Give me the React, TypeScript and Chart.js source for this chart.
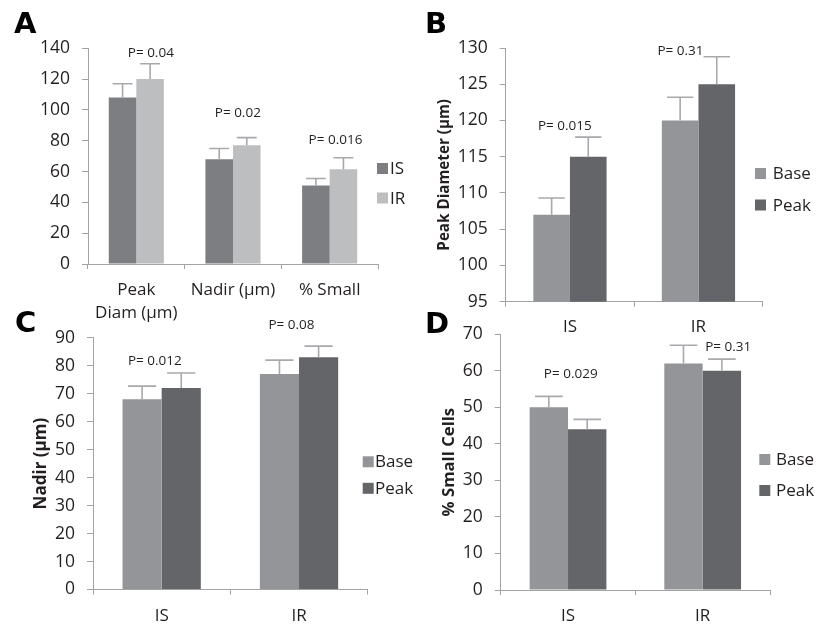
import React, { useEffect, useRef } from 'react';
import { Chart, registerables } from 'chart.js';

Chart.register(...registerables);

// ---------- Data ----------
// Panel A
const aCategories: (string | string[])[] = [['Peak', 'Diam (μm)'], 'Nadir (μm)', '% Small'];
const aIS = [108, 68, 51];
const aISErr = [9, 7, 4.5];
const aIR = [120, 77, 61.5];
const aIRErr = [10, 5, 7.5];
const aPText = ['P= 0.04', 'P= 0.02', 'P= 0.016'];

// Groups for panels B, C, D
const groups = ['IS', 'IR'];

// Panel B (Peak Diameter)
const bBase = [107, 120];
const bBaseErr = [2.3, 3.2];
const bPeak = [115, 125];
const bPeakErr = [2.7, 3.8];
const bPText = ['P= 0.015', 'P= 0.31'];

// Panel C (Nadir)
const cBase = [68, 77];
const cBaseErr = [4.7, 5];
const cPeak = [72, 83];
const cPeakErr = [5.4, 4];
const cPText = ['P= 0.012', 'P= 0.08'];

// Panel D (% Small Cells)
const dBase = [50, 62];
const dBaseErr = [3, 5];
const dPeak = [44, 60];
const dPeakErr = [2.7, 3.2];
const dPText = ['P= 0.029', 'P= 0.31'];

// ---------- Styles ----------
const FONT = "'Open Sans', 'Noto Sans', sans-serif";
const LETTER_FONT = "bold 29px 'DejaVu Sans', 'Liberation Sans', Arial, sans-serif";
const TEXT = '#231f20';
const AXIS = '#a3a3a3';
const ERR = '#a7a9ac';
const C_IS = '#7d7e82';
const C_IR = '#bdbec0';
const C_BASE = '#939598';
const C_PEAK = '#636569';

type Rect = { left: number; top: number; width: number; height: number };
type Area = { left: number; right: number; top: number; bottom: number };

const decorPlugin = {
  id: 'decor',
  afterDatasetsDraw(chart: any) {
    const ctx = chart.ctx;
    const ys = chart.scales.y;
    ctx.save();
    ctx.strokeStyle = ERR;
    ctx.lineWidth = 1.6;
    chart.data.datasets.forEach((ds: any, di: number) => {
      const meta = chart.getDatasetMeta(di);
      meta.data.forEach((bar: any, i: number) => {
        const top = ys.getPixelForValue(ds.data[i] + ds.errors[i]);
        const cx = bar.x;
        const w = bar.width * 0.72;
        ctx.beginPath();
        ctx.moveTo(cx, bar.y);
        ctx.lineTo(cx, top);
        ctx.moveTo(cx - w / 2, top);
        ctx.lineTo(cx + w / 2, top);
        ctx.stroke();
      });
    });
    ctx.restore();
  },
  afterDraw(chart: any, _args: any, opts: any) {
    const ctx = chart.ctx;
    const xs = chart.scales.x;
    const ys = chart.scales.y;
    const ox = opts.origin.left;
    const oy = opts.origin.top;
    ctx.save();
    // P labels
    const catW = xs.width / chart.data.labels.length;
    ctx.font = `13.5px ${FONT}`;
    ctx.fillStyle = TEXT;
    ctx.textAlign = 'center';
    ctx.textBaseline = 'alphabetic';
    opts.pLabels.forEach((p: any) => {
      const px = xs.getPixelForValue(p.i) + p.dx * catW;
      const py = ys.getPixelForValue(p.v);
      ctx.fillText(p.text, px, py);
    });
    // legend
    const lg = opts.legend;
    ctx.font = `17px ${FONT}`;
    ctx.textAlign = 'left';
    chart.data.datasets.forEach((ds: any, i: number) => {
      const base = lg.y + i * lg.gap - oy;
      ctx.fillStyle = ds.backgroundColor;
      ctx.fillRect(lg.x - ox, base - 11, 11, 11);
      ctx.fillStyle = TEXT;
      ctx.fillText(ds.label, lg.tx - ox, base);
    });
    // panel letter
    ctx.font = LETTER_FONT;
    ctx.fillStyle = '#000';
    ctx.fillText(opts.letter.text, opts.letter.x - ox, opts.letter.y - oy);
    ctx.restore();
  },
};

interface PanelSpec {
  canvas: Rect;
  area: Area;
  labels: (string | string[])[];
  datasets: { label: string; data: number[]; errors: number[]; color: string }[];
  yMin: number;
  yMax: number;
  step: number;
  yTitle?: string;
  yTitleX?: number;
  yTitleSize?: number;
  xPad: number;
  xLineHeight: number;
  letter: { text: string; x: number; y: number };
  legend: { x: number; tx: number; y: number; gap: number };
  pLabels: { text: string; i: number; dx: number; v: number }[];
}

function makeConfig(p: PanelSpec): any {
  const c = p.canvas;
  const a = p.area;
  const tSize = p.yTitleSize || 16;
  const titleLH = tSize * 1.2;
  return {
    type: 'bar',
    data: {
      labels: p.labels,
      datasets: p.datasets.map((d) => ({
        label: d.label,
        data: d.data,
        errors: d.errors,
        backgroundColor: d.color,
        borderWidth: 0,
        categoryPercentage: 0.57,
        barPercentage: 1.0,
      })),
    },
    options: {
      responsive: false,
      animation: false,
      events: [],
      layout: {
        padding: {
          left: 0,
          top: a.top - c.top,
          right: c.left + c.width - a.right,
          bottom: 0,
        },
      },
      plugins: {
        legend: { display: false },
        tooltip: { enabled: false },
        decor: {
          origin: { left: c.left, top: c.top },
          letter: p.letter,
          legend: p.legend,
          pLabels: p.pLabels,
        },
      },
      scales: {
        x: {
          type: 'category',
          offset: true,
          afterFit: (s: any) => {
            s.height = c.top + c.height - a.bottom;
          },
          border: { display: true, color: AXIS, width: 1 },
          grid: {
            display: true,
            offset: true,
            drawOnChartArea: false,
            drawTicks: true,
            tickLength: 5,
            color: AXIS,
          },
          ticks: {
            color: TEXT,
            font: { family: FONT, size: 17, lineHeight: p.xLineHeight },
            padding: p.xPad,
            maxRotation: 0,
            autoSkip: false,
          },
        },
        y: {
          type: 'linear',
          min: p.yMin,
          max: p.yMax,
          afterFit: (s: any) => {
            s.width = a.left - c.left;
          },
          border: { display: true, color: AXIS, width: 1 },
          grid: {
            display: true,
            drawOnChartArea: false,
            drawTicks: true,
            tickLength: 6,
            color: AXIS,
          },
          ticks: {
            stepSize: p.step,
            color: TEXT,
            font: { family: FONT, size: 17.5 },
            padding: 12,
            autoSkip: false,
          },
          title: p.yTitle
            ? {
                display: true,
                text: p.yTitle,
                color: TEXT,
                font: { family: FONT, size: tSize, weight: 'bold', lineHeight: 1.2 },
                padding: { top: (p.yTitleX as number) - c.left - titleLH / 2, bottom: 0 },
              }
            : { display: false },
        },
      },
    },
    plugins: [decorPlugin],
  };
}

const specA: PanelSpec = {
  canvas: { left: 0, top: 0, width: 410, height: 330 },
  area: { left: 88, right: 378, top: 48.3, bottom: 264 },
  labels: aCategories,
  datasets: [
    { label: 'IS', data: aIS, errors: aISErr, color: C_IS },
    { label: 'IR', data: aIR, errors: aIRErr, color: C_IR },
  ],
  yMin: 0,
  yMax: 140,
  step: 20,
  xPad: 10,
  xLineHeight: 1.35,
  letter: { text: 'A', x: 14, y: 33 },
  legend: { x: 377, tx: 390, y: 174, gap: 29.5 },
  pLabels: [
    { text: aPText[0], i: 0, dx: 0.15, v: 134.3 },
    { text: aPText[1], i: 1, dx: 0.05, v: 95.1 },
    { text: aPText[2], i: 2, dx: 0.06, v: 77.8 },
  ],
};

const specB: PanelSpec = {
  canvas: { left: 410, top: 0, width: 407, height: 345 },
  area: { left: 505.7, right: 762.7, top: 48, bottom: 301.7 },
  labels: groups,
  datasets: [
    { label: 'Base', data: bBase, errors: bBaseErr, color: C_BASE },
    { label: 'Peak', data: bPeak, errors: bPeakErr, color: C_PEAK },
  ],
  yMin: 95,
  yMax: 130,
  step: 5,
  yTitle: 'Peak Diameter (μm)',
  yTitleX: 444.5,
  yTitleSize: 15.2,
  xPad: 10,
  xLineHeight: 1.2,
  letter: { text: 'B', x: 425, y: 33 },
  legend: { x: 755, tx: 772.7, y: 179, gap: 31.5 },
  pLabels: [
    { text: bPText[0], i: 0, dx: -0.04, v: 118.7 },
    { text: bPText[1], i: 1, dx: -0.14, v: 129.0 },
  ],
};

const specC: PanelSpec = {
  canvas: { left: 0, top: 300, width: 430, height: 326 },
  area: { left: 93, right: 367.7, top: 337.7, bottom: 589.5 },
  labels: groups,
  datasets: [
    { label: 'Base', data: cBase, errors: cBaseErr, color: C_BASE },
    { label: 'Peak', data: cPeak, errors: cPeakErr, color: C_PEAK },
  ],
  yMin: 0,
  yMax: 90,
  step: 10,
  yTitle: 'Nadir (μm)',
  yTitleX: 41,
  yTitleSize: 17,
  xPad: 11,
  xLineHeight: 1.2,
  letter: { text: 'C', x: 15, y: 331.5 },
  legend: { x: 362.7, tx: 375, y: 467.3, gap: 26.5 },
  pLabels: [
    { text: cPText[0], i: 0, dx: -0.05, v: 80.3 },
    { text: cPText[1], i: 1, dx: -0.055, v: 93.1 },
  ],
};

const specD: PanelSpec = {
  canvas: { left: 410, top: 300, width: 407, height: 326 },
  area: { left: 500.7, right: 770, top: 334.3, bottom: 590 },
  labels: groups,
  datasets: [
    { label: 'Base', data: dBase, errors: dBaseErr, color: C_BASE },
    { label: 'Peak', data: dPeak, errors: dPeakErr, color: C_PEAK },
  ],
  yMin: 0,
  yMax: 70,
  step: 10,
  yTitle: '% Small Cells',
  yTitleX: 449,
  yTitleSize: 16.7,
  xPad: 11,
  xLineHeight: 1.2,
  letter: { text: 'D', x: 425, y: 333 },
  legend: { x: 759.3, tx: 776, y: 465, gap: 31 },
  pLabels: [
    { text: dPText[0], i: 0, dx: 0.02, v: 58.0 },
    { text: dPText[1], i: 1, dx: 0.19, v: 65.5 },
  ],
};

function Panel({ spec }: { spec: PanelSpec }) {
  const ref = useRef<HTMLCanvasElement>(null);
  useEffect(() => {
    const chart = new Chart(ref.current as HTMLCanvasElement, makeConfig(spec));
    return () => chart.destroy();
  }, [spec]);
  const c = spec.canvas;
  return (
    <canvas
      ref={ref}
      width={c.width}
      height={c.height}
      style={{
        position: 'absolute',
        left: c.left,
        top: c.top,
        width: c.width,
        height: c.height,
        display: 'block',
      }}
    />
  );
}

export default function App() {
  return (
    <div
      style={{
        position: 'fixed',
        left: 0,
        top: 0,
        width: 817,
        height: 626,
        background: '#ffffff',
        overflow: 'hidden',
      }}
    >
      <Panel spec={specA} />
      <Panel spec={specB} />
      <Panel spec={specC} />
      <Panel spec={specD} />
    </div>
  );
}
